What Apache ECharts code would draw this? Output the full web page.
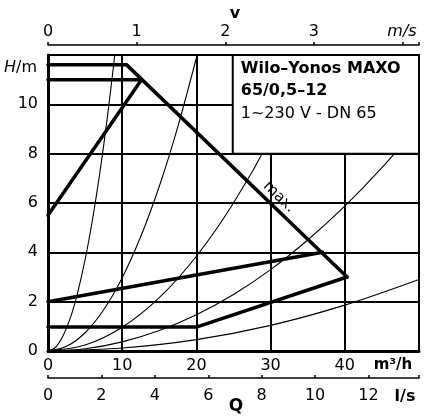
<!DOCTYPE html>
<html><head><meta charset="utf-8">
<script src="https://cdn.jsdelivr.net/npm/echarts@6/dist/echarts.min.js"></script>
<style>html,body{margin:0;padding:0;background:#fff}#c{width:440px;height:420px}</style>
</head><body><div id="c"></div>
<script>
// ---- data ----
const velocityLabels = ['0', '1', '2', '3', ''];
const litreLabels = ['0', '2', '4', '6', '8', '10', '12'];
const legendLines = ['Wilo\u2013Yonos MAXO', '65/0,5\u201312', '1~230 V - DN 65'];

// pump curves [Q m3/h, H m]
const maxCurve = [[0, 11.6], [10.6, 11.6], [40.3, 3.0]];
const constCurve = [[0, 11.0], [12.6, 11.0]];
const dpvCurve = [[0, 5.5], [12.6, 11.0]];
const lowCurve = [[0, 2.0], [37.0, 4.0]];
const minCurve = [[0, 0.97], [20, 0.97], [40.3, 3.0]];

// system curves (thin)
const sysA = [[0, 0], [1, 0.15], [2, 0.6], [3, 1.33], [4, 2.37], [5, 3.7], [6, 5.33], [7, 7.25], [8, 9.47], [9.0, 12.0]];
const sysB = [[0, 0], [2.5, 0.19], [5, 0.74], [7.5, 1.67], [10, 2.97], [12.5, 4.64], [15, 6.68], [17.5, 9.1], [20.1, 12.0]];
const sysC = [[0, 0], [5, 0.24], [10, 0.96], [15, 2.16], [20, 3.84], [25, 6.0], [30, 8.64], [35.3, 12.0]];
const sysD = [[0, 0], [5, 0.09], [10, 0.37], [15, 0.83], [20, 1.47], [25, 2.29], [30, 3.3], [35, 4.5], [40, 5.87], [45, 7.43], [50, 9.18]];
const sysE = [[0, 0], [10, 0.12], [20, 0.46], [30, 1.04], [40, 1.86], [50, 2.9]];

// ---- chart ----
const FONT = 'DejaVu Sans';
const Q_MAX = 50, H_MAX = 12;
const M3H_PER_MS = 11.945; // DN 65 pipe
const M3H_PER_LS = 3.6;

const chart = echarts.init(document.getElementById('c'), null, {renderer: 'canvas'});

function line(data, width, z, smooth) {
  return {
    type: 'line', data, xAxisIndex: 0, yAxisIndex: 0, symbol: 'none', showSymbol: false,
    smooth: smooth ? 0.3 : false,
    lineStyle: {color: '#000', width: width, cap: 'round', join: 'round'},
    z: z, silent: true, animation: false, clip: true
  };
}

const txt = {color: '#000', fontFamily: FONT, fontSize: 16};

chart.setOption({
  animation: false,
  backgroundColor: '#fff',
  grid: {left: 48, top: 55, right: 21, bottom: 69, show: true, borderColor: '#000', borderWidth: 2},
  xAxis: [
    {
      type: 'value', min: 0, max: Q_MAX, interval: 10, position: 'bottom',
      axisLine: {show: true, lineStyle: {color: '#000', width: 3}},
      axisTick: {show: false},
      axisLabel: Object.assign({margin: 7, showMaxLabel: false}, txt),
      splitLine: {show: true, lineStyle: {color: '#000', width: 2}}
    },
    {
      type: 'value', min: 0, max: Q_MAX / M3H_PER_MS, interval: 1, position: 'top', offset: 10,
      axisLine: {show: true, onZero: false, lineStyle: {color: '#000', width: 1.5}},
      axisTick: {show: true, inside: false, length: 3, lineStyle: {color: '#000', width: 1.5}},
      axisLabel: Object.assign({
        margin: 5,
        formatter: v => velocityLabels[Math.round(v)] || ''
      }, txt),
      splitLine: {show: false}
    },
    {
      type: 'value', min: 0, max: Q_MAX / M3H_PER_LS, interval: 2, position: 'bottom', offset: 27,
      axisLine: {show: true, onZero: false, lineStyle: {color: '#000', width: 1.5}},
      axisTick: {show: true, inside: true, length: 3, lineStyle: {color: '#000', width: 1.5}},
      axisLabel: Object.assign({
        margin: 10,
        formatter: v => litreLabels[Math.round(v / 2)] || ''
      }, txt),
      splitLine: {show: false}
    }
  ],
  yAxis: [{
    type: 'value', min: 0, max: H_MAX, interval: 2,
    axisLine: {show: true, lineStyle: {color: '#000', width: 3}},
    axisTick: {show: false},
    axisLabel: Object.assign({margin: 10, showMaxLabel: false}, txt),
    splitLine: {show: true, lineStyle: {color: '#000', width: 2}}
  }],
  graphic: [
    {type: 'text', x: 235, y: 14, style: {text: 'v', font: 'bold 16px ' + FONT, fill: '#000', align: 'center', verticalAlign: 'middle'}},
    {type: 'text', x: 402, y: 32, style: {text: 'm/s', font: 'italic 16px ' + FONT, fill: '#000', align: 'center', verticalAlign: 'middle'}},
    {type: 'text', x: 236, y: 407, style: {text: 'Q', font: 'bold 17px ' + FONT, fill: '#000', align: 'center', verticalAlign: 'middle'}},
    {type: 'text', x: 393, y: 365, style: {text: 'm\u00b3/h', font: 'bold 15px ' + FONT, fill: '#000', align: 'center', verticalAlign: 'middle'}},
    {type: 'text', x: 405, y: 397, style: {text: 'l/s', font: 'bold 16px ' + FONT, fill: '#000', align: 'center', verticalAlign: 'middle'}},
    {type: 'text', x: 4, y: 68, style: {
      text: '{i|H}/m', fill: '#000', align: 'left', verticalAlign: 'middle', font: '16px ' + FONT,
      rich: {i: {fontStyle: 'italic', fontFamily: FONT, fontSize: 16, fill: '#000'}}
    }},
    {type: 'text', x: 279, y: 197, rotation: -0.763, style: {text: 'max.', font: '15px ' + FONT, fill: '#000', align: 'center', verticalAlign: 'middle'}}
  ],
  series: [
    line(sysA, 1.1, 2, true),
    line(sysB, 1.1, 2, true),
    line(sysC, 1.1, 2, true),
    line(sysD, 1.1, 2, true),
    line(sysE, 1.1, 2, true),
    {
      type: 'custom', xAxisIndex: 0, yAxisIndex: 0, z: 5, silent: true, animation: false,
      data: [[24.9, 12, Q_MAX, 8]],
      renderItem: function (params, api) {
        const p1 = api.coord([api.value(0), api.value(1)]);
        const p2 = api.coord([api.value(2), api.value(3)]);
        const x = p1[0], y = p1[1], w = p2[0] - p1[0], h = p2[1] - p1[1];
        return {
          type: 'group', children: [
            {type: 'rect', shape: {x: x, y: y, width: w, height: h}, style: {fill: '#fff', stroke: '#000', lineWidth: 2}},
            {type: 'text', x: x + 8, y: y + 14, style: {text: legendLines[0], font: 'bold 16px ' + FONT, fill: '#000', verticalAlign: 'middle'}},
            {type: 'text', x: x + 8, y: y + 36, style: {text: legendLines[1], font: 'bold 16px ' + FONT, fill: '#000', verticalAlign: 'middle'}},
            {type: 'text', x: x + 8, y: y + 59, style: {text: legendLines[2], font: '16px ' + FONT, fill: '#000', verticalAlign: 'middle'}}
          ]
        };
      }
    },
    line(maxCurve, 3.5, 6, false),
    line(constCurve, 3.5, 6, false),
    line(dpvCurve, 3.5, 6, false),
    line(lowCurve, 3.5, 6, false),
    line(minCurve, 3.5, 6, false)
  ]
});
</script>
</body></html>
